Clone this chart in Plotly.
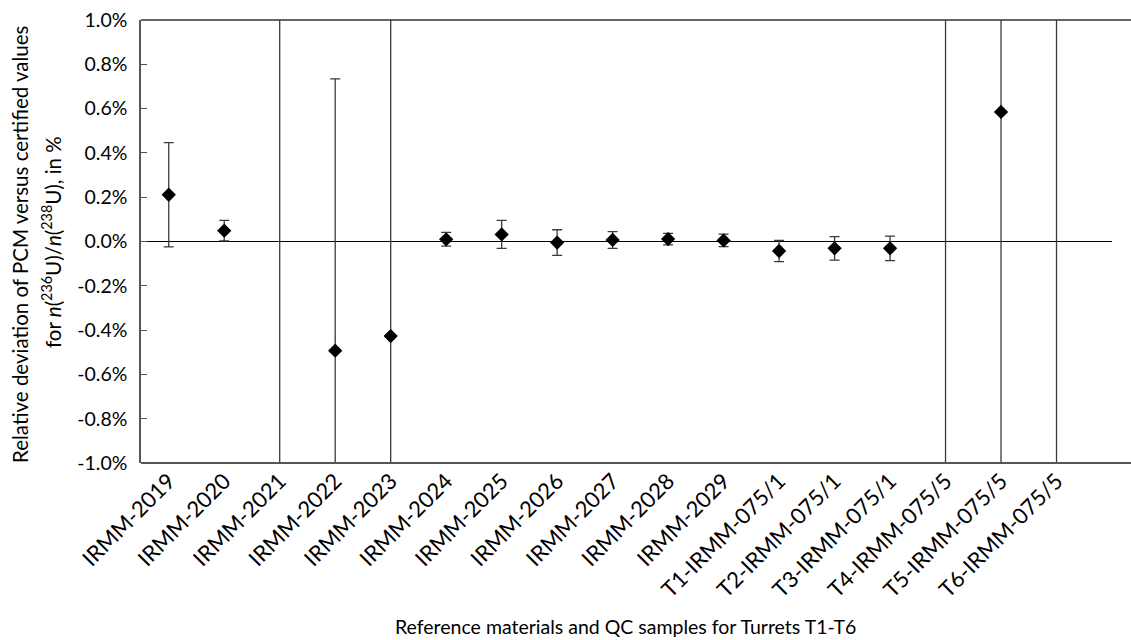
import plotly.graph_objects as go

categories = ["IRMM-2019", "IRMM-2020", "IRMM-2021", "IRMM-2022", "IRMM-2023",
              "IRMM-2024", "IRMM-2025", "IRMM-2026", "IRMM-2027", "IRMM-2028",
              "IRMM-2029", "T1-IRMM-075/1", "T2-IRMM-075/1", "T3-IRMM-075/1",
              "T4-IRMM-075/5", "T5-IRMM-075/5", "T6-IRMM-075/5"]
# relative deviation in % (values outside the axis range are estimated)
deviation = [0.211, 0.049, -1.5, -0.493, -0.427, 0.010, 0.032, -0.005, 0.007,
             0.011, 0.005, -0.043, -0.031, -0.031, -1.4, 0.585, 1.3]
uncertainty = [0.235, 0.046, 2.7, 1.227, 1.6, 0.031, 0.063, 0.058, 0.038,
               0.026, 0.028, 0.048, 0.053, 0.055, 2.6, 1.8, 2.5]
y_tick_vals = [-1.0, -0.8, -0.6, -0.4, -0.2, 0.0, 0.2, 0.4, 0.6, 0.8, 1.0]
y_tick_text = ["-1.0%", "-0.8%", "-0.6%", "-0.4%", "-0.2%", "0.0%", "0.2%",
               "0.4%", "0.6%", "0.8%", "1.0%"]
y_title_lines = ["Relative deviation of PCM versus certified values",
                 "for <i>n</i>(<sup>236</sup>U)/<i>n</i>(<sup>238</sup>U), in %"]
x_title = "Reference materials and QC samples for Turrets T1-T6"

FONT = "Lato, 'Open Sans', sans-serif"
x_pos = list(range(len(categories)))
PLOT_W = 1131 - 141 - 19
PLOT_H = 640 - 20 - 177

fig = go.Figure()
fig.add_trace(go.Scatter(
    x=x_pos, y=deviation, mode="markers",
    marker=dict(symbol="diamond", size=11, color="black"),
    error_y=dict(type="data", array=uncertainty, visible=True,
                 color="#3a3a3a", thickness=1.3, width=5),
    cliponaxis=True, showlegend=False,
))

fig.update_layout(
    width=1131, height=640,
    margin=dict(l=141, r=19, t=20, b=177),
    paper_bgcolor="white", plot_bgcolor="white",
    font=dict(family=FONT, size=19, color="black"),
    xaxis=dict(range=[-0.5, 17.0], tickvals=x_pos, ticktext=categories,
               tickangle=-45, showgrid=False, zeroline=False, showline=False,
               ticks="", tickfont=dict(size=22), automargin=False),
    yaxis=dict(range=[-1.0, 1.0], tickvals=y_tick_vals, ticktext=y_tick_text,
               showgrid=False, zeroline=True, zerolinecolor="black",
               zerolinewidth=1.4, showline=True, linecolor="#555555",
               linewidth=1.5, ticks="inside", ticklen=6, tickcolor="#555555",
               ticklabelstandoff=8, tickfont=dict(size=19.5), automargin=False),
    shapes=[
        dict(type="line", xref="paper", yref="paper", x0=0, x1=1.05, y0=1, y1=1,
             line=dict(color="#333333", width=1.5)),
        dict(type="line", xref="paper", yref="paper", x0=0, x1=1.05, y0=0, y1=0,
             line=dict(color="#555555", width=2)),
    ],
    annotations=[
        dict(text=y_title_lines[0], xref="paper", yref="paper",
             x=(20 - 141) / PLOT_W, y=(463 - 244) / PLOT_H,
             textangle=-90, showarrow=False, font=dict(size=20.5),
             xanchor="center", yanchor="middle"),
        dict(text=y_title_lines[1], xref="paper", yref="paper",
             x=(51 - 141) / PLOT_W, y=(463 - 242) / PLOT_H,
             textangle=-90, showarrow=False, font=dict(size=20.5),
             xanchor="center", yanchor="middle"),
        dict(text=x_title, xref="paper", yref="paper",
             x=(625 - 141) / PLOT_W, y=-(626 - 463) / PLOT_H,
             showarrow=False, font=dict(size=19.5),
             xanchor="center", yanchor="middle"),
    ],
)

fig.write_html("out.html")
